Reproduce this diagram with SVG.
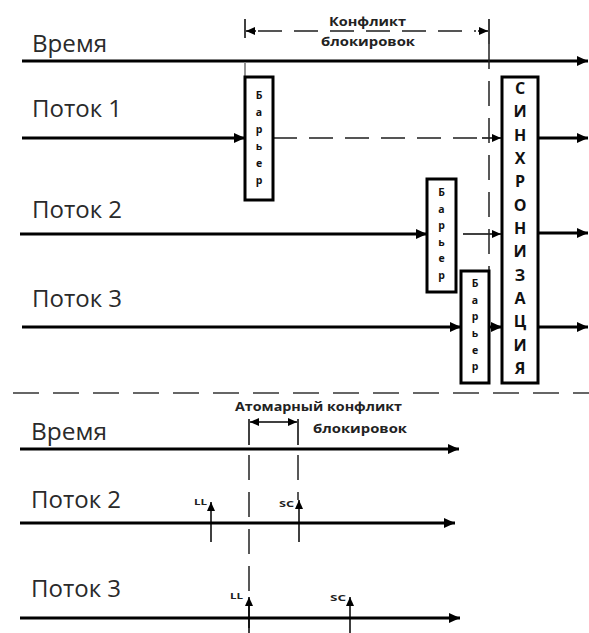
<svg xmlns="http://www.w3.org/2000/svg" width="589" height="633" viewBox="0 0 589 633">
<defs>
<marker id="ah" markerUnits="userSpaceOnUse" markerWidth="11" markerHeight="10" refX="11" refY="5" orient="auto-start-reverse"><path d="M0,0 L11,5 L0,10 z" fill="#000"/></marker>
<marker id="as" markerUnits="userSpaceOnUse" markerWidth="9" markerHeight="8" refX="9" refY="4" orient="auto-start-reverse"><path d="M0,0 L9,4 L0,8 z" fill="#000"/></marker>
<marker id="au" markerUnits="userSpaceOnUse" markerWidth="9" markerHeight="8" refX="9" refY="4" orient="auto"><path d="M0,0 L9,4 L0,8 z" fill="#000"/></marker>
</defs>
<style>
.lbl{font-family:"Open Sans","Noto Sans",sans-serif;font-size:23px;fill:#2a2a2a}
.sm{font-family:"Open Sans","Noto Sans",sans-serif;font-size:13px;font-weight:700;fill:#222}
.bar{font-family:"Open Sans","Noto Sans",sans-serif;font-size:10.5px;font-weight:700;fill:#111;text-anchor:middle}
.syn{font-family:"Open Sans","Noto Sans",sans-serif;font-size:16px;font-weight:700;fill:#111;text-anchor:middle}
.tiny{font-family:"Open Sans","Noto Sans",sans-serif;font-size:9.5px;font-weight:700;fill:#222}
.box{fill:#fff;stroke:#000;stroke-width:3}
.thick{stroke:#000;stroke-width:3;fill:none}
.thin{stroke:#000;stroke-width:1.5;fill:none}
.dash{stroke:#555;stroke-width:1.8;fill:none;stroke-dasharray:24 12}
.vdash{stroke:#222;stroke-width:1.5;fill:none;stroke-dasharray:25 12}
.sep{stroke:#666;stroke-width:2;fill:none;stroke-dasharray:26 14}
</style>

<g id="connectors">
<!-- top section -->
<line class="thick" x1="22" y1="61" x2="588" y2="61" stroke-width="3.5" marker-end="url(#ah)"/>
<line class="thick" x1="22" y1="138" x2="245" y2="138" marker-end="url(#ah)"/>
<line class="dash" x1="273" y1="138" x2="482" y2="138"/>
<line class="thin" x1="482" y1="138" x2="501" y2="138" marker-end="url(#as)"/>
<line class="thick" x1="20" y1="234" x2="427" y2="234" marker-end="url(#ah)"/>
<line class="thin" x1="463" y1="234" x2="501" y2="234" marker-end="url(#as)"/>
<line class="thick" x1="22" y1="327" x2="461" y2="327" marker-end="url(#ah)"/>
<line class="thick" x1="489" y1="327" x2="502" y2="327" marker-end="url(#ah)"/>
<line class="thick" x1="538" y1="138" x2="588" y2="138" marker-end="url(#ah)"/>
<line class="thick" x1="538" y1="233" x2="588" y2="233" marker-end="url(#ah)"/>
<line class="thick" x1="538" y1="327" x2="588" y2="327" marker-end="url(#ah)"/>
<!-- conflict bracket -->
<line class="thin" x1="245" y1="19" x2="245" y2="38"/>
<line x1="245" y1="62" x2="245" y2="77" stroke="#888" stroke-width="1.8"/>
<line class="thin" x1="489" y1="19" x2="489" y2="44"/>
<line class="vdash" x1="489" y1="44" x2="489" y2="271" stroke-dasharray="28 10"/>
<line class="dash" x1="258" y1="31" x2="476" y2="31"/>
<line class="thin" x1="256" y1="31" x2="246" y2="31" marker-end="url(#as)"/>
<line class="thin" x1="478" y1="31" x2="488" y2="31" marker-end="url(#as)"/>
<!-- separator -->
<line class="sep" x1="13" y1="393" x2="589" y2="393"/>
<!-- bottom section -->
<line class="thick" x1="20" y1="449" x2="459" y2="449" marker-end="url(#ah)"/>
<line class="thin" x1="249" y1="419" x2="249" y2="445"/>
<line class="thin" x1="298" y1="419" x2="298" y2="445"/>
<line class="thin" x1="250" y1="422" x2="297" y2="422" marker-start="url(#as)" marker-end="url(#as)"/>
<line class="vdash" x1="249" y1="455" x2="249" y2="633" stroke-dasharray="15 15"/>
<line class="vdash" x1="298" y1="455" x2="298" y2="500" stroke-dasharray="15 15"/>
<line class="thick" x1="20" y1="523" x2="455" y2="523" marker-end="url(#ah)"/>
<line class="thin" x1="211" y1="542" x2="211" y2="502" marker-end="url(#au)"/>
<line class="thin" x1="299" y1="542" x2="299" y2="500" marker-end="url(#au)"/>
<line class="thick" x1="20" y1="618" x2="460" y2="618" marker-end="url(#ah)"/>
<line class="thin" x1="249" y1="633" x2="249" y2="597" marker-end="url(#au)"/>
<line class="thin" x1="350" y1="633" x2="350" y2="597" marker-end="url(#au)"/>
</g>

<g id="labels-top">
<text class="lbl" x="32" y="52" textLength="75" lengthAdjust="spacingAndGlyphs">Время</text>
<text class="lbl" x="32" y="117" textLength="90" lengthAdjust="spacingAndGlyphs">Поток 1</text>
<text class="lbl" x="32" y="218" textLength="90" lengthAdjust="spacingAndGlyphs">Поток 2</text>
<text class="lbl" x="32" y="307" textLength="90" lengthAdjust="spacingAndGlyphs">Поток 3</text>
</g>
<g id="conflict-label">
<text class="sm" x="329" y="26" textLength="77" lengthAdjust="spacingAndGlyphs">Конфликт</text>
<text class="sm" x="321" y="46" textLength="94" lengthAdjust="spacingAndGlyphs">блокировок</text>
</g>

<g id="barrier1">
<rect class="box" x="245" y="77" width="28" height="123"/>
<text class="bar" x="259" y="98.5">Б</text>
<text class="bar" x="259" y="115.5">а</text>
<text class="bar" x="259" y="132.5">р</text>
<text class="bar" x="259" y="149.5">ь</text>
<text class="bar" x="259" y="166.5">е</text>
<text class="bar" x="259" y="183.5">р</text>
</g>
<g id="barrier2">
<rect class="box" x="427" y="179" width="29" height="113"/>
<text class="bar" x="441.5" y="196">Б</text>
<text class="bar" x="441.5" y="212.5">а</text>
<text class="bar" x="441.5" y="229">р</text>
<text class="bar" x="441.5" y="245.5">ь</text>
<text class="bar" x="441.5" y="262">е</text>
<text class="bar" x="441.5" y="278.5">р</text>
</g>
<g id="barrier3">
<rect class="box" x="461" y="271" width="28" height="112"/>
<text class="bar" x="475" y="287">Б</text>
<text class="bar" x="475" y="304">а</text>
<text class="bar" x="475" y="320">р</text>
<text class="bar" x="475" y="337">ь</text>
<text class="bar" x="475" y="354">е</text>
<text class="bar" x="475" y="370">р</text>
</g>
<g id="sync">
<rect class="box" x="502" y="77" width="36" height="306" stroke-width="3.5"/>
<text class="syn" x="520" y="94">С</text>
<text class="syn" x="520" y="117.3">И</text>
<text class="syn" x="520" y="140.7">Н</text>
<text class="syn" x="520" y="164">Х</text>
<text class="syn" x="520" y="187.3">Р</text>
<text class="syn" x="520" y="210.7">О</text>
<text class="syn" x="520" y="234">Н</text>
<text class="syn" x="520" y="257.3">И</text>
<text class="syn" x="520" y="280.7">З</text>
<text class="syn" x="520" y="304">А</text>
<text class="syn" x="520" y="327.3">Ц</text>
<text class="syn" x="520" y="350.7">И</text>
<text class="syn" x="520" y="374">Я</text>
</g>

<g id="labels-bottom">
<text class="lbl" x="31" y="440" textLength="76" lengthAdjust="spacingAndGlyphs">Время</text>
<text class="lbl" x="31" y="508" textLength="90" lengthAdjust="spacingAndGlyphs">Поток 2</text>
<text class="lbl" x="31" y="597" textLength="90" lengthAdjust="spacingAndGlyphs">Поток 3</text>
</g>
<g id="atomic-label">
<text class="sm" x="235" y="411" textLength="167" lengthAdjust="spacingAndGlyphs">Атомарный конфликт</text>
<text class="sm" x="313" y="433" textLength="94" lengthAdjust="spacingAndGlyphs">блокировок</text>
</g>
<g id="marks">
<text class="tiny" x="194" y="505" textLength="13" lengthAdjust="spacingAndGlyphs">LL</text>
<text class="tiny" x="279" y="507" textLength="15" lengthAdjust="spacingAndGlyphs">SC</text>
<text class="tiny" x="230" y="599" textLength="13" lengthAdjust="spacingAndGlyphs">LL</text>
<text class="tiny" x="330" y="601" textLength="16" lengthAdjust="spacingAndGlyphs">SC</text>
</g>
</svg>
